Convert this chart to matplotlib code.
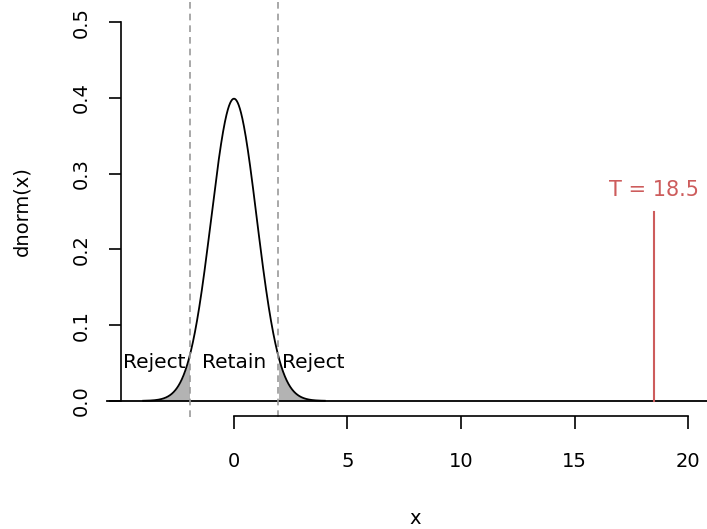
import numpy as np
import matplotlib
matplotlib.use('Agg')
import matplotlib.pyplot as plt

# values
crit = 1.96          # two-sided 5% cutoffs
t_stat = 18.5        # observed test statistic
t_height = 0.25      # height of the red marker line
x_ticks = [0, 5, 10, 15, 20]
y_ticks = [0.0, 0.1, 0.2, 0.3, 0.4, 0.5]
region_labels = ['Reject', 'Retain', 'Reject']
region_x = [-3.5, 0, 3.5]
label_y = 0.05

# standard normal density, drawn from -4 to 4
xs = np.linspace(-4, 4, 801)
dens = np.exp(-xs**2 / 2) / np.sqrt(2 * np.pi)

red = '#CD5C5C'
plt.rcParams['font.family'] = ['DejaVu Sans']
fs = 14

fig = plt.figure(figsize=(7.07, 5.29), dpi=100)
ax = fig.add_axes([121.4/707, 1 - 416/529, 588.4/707, 409/529])
ax.set_xlim(-4.96, 20.96)
ax.set_ylim(-0.02, 0.52)

# shaded tails
left = xs <= -crit
right = xs >= crit
ax.fill_between(xs[left], 0, dens[left], color='#b3b3b3', lw=0)
ax.fill_between(xs[right], 0, dens[right], color='#b3b3b3', lw=0)

ax.plot(xs, dens, color='black', lw=1.3)
ax.plot([-5.6, 21], [0, 0], color='black', lw=1.3, clip_on=False)

for c in (-crit, crit):
    ax.plot([c, c], [-0.021, 0.56], color='#999999', lw=1.2,
            ls=(0, (4, 3)), clip_on=False)

ax.plot([t_stat, t_stat], [0, t_height], color=red, lw=1.5)
ax.text(t_stat, t_height + 0.028, 'T = 18.5', color=red,
        fontsize=fs + 1, ha='center', va='center')

for lab, xx in zip(region_labels, region_x):
    ax.text(xx, label_y, lab, fontsize=fs + 0.5, ha='center', va='center')

for s in ['top', 'right']:
    ax.spines[s].set_visible(False)
ax.spines['left'].set_bounds(0, 0.5)
ax.spines['bottom'].set_bounds(0, 20)
ax.spines['left'].set_linewidth(1.2)
ax.spines['bottom'].set_linewidth(1.2)

ax.set_xticks(x_ticks)
ax.set_yticks(y_ticks)
ax.set_yticklabels(['%.1f' % v for v in y_ticks], rotation=90, va='center')
ax.tick_params(axis='both', length=9, width=1.2, labelsize=fs)
ax.tick_params(axis='x', pad=17)
ax.tick_params(axis='y', pad=13)

ax.set_xlabel('x', fontsize=fs, labelpad=27)
ax.set_ylabel('dnorm(x)', fontsize=fs, labelpad=29)

fig.savefig('out.png', dpi=100)
